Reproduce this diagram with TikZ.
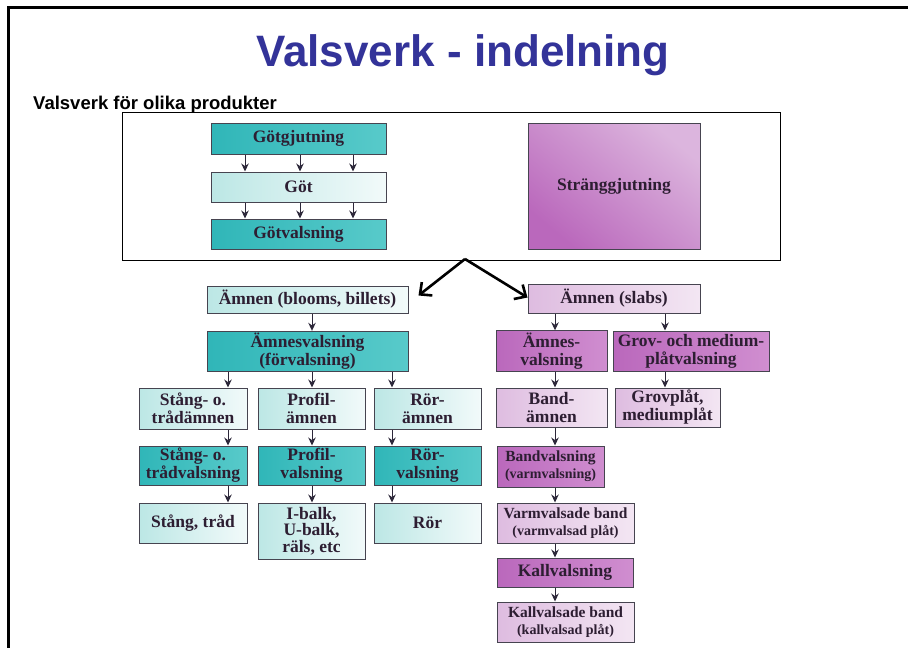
\documentclass[tikz,border=0pt]{standalone}
\usepackage{fontspec}
\setmainfont{Liberation Serif}
\newfontfamily\arialfont{Liberation Sans}
\usepackage{tikz}
\usetikzlibrary{arrows.meta}
\definecolor{titleblue}{RGB}{51,51,153}
\definecolor{boxline}{RGB}{70,68,80}
\definecolor{pilline}{RGB}{45,40,58}
\definecolor{boxtext}{RGB}{45,30,50}
\definecolor{tealA}{RGB}{48,182,184}
\definecolor{tealB}{RGB}{88,202,202}
\definecolor{tealC}{RGB}{188,231,229}
\definecolor{tealE}{RGB}{242,250,250}
\definecolor{lilaA}{RGB}{186,104,188}
\definecolor{lilaB}{RGB}{208,142,208}
\definecolor{lilaC}{RGB}{222,188,224}
\definecolor{lilaE}{RGB}{243,230,243}
\tikzstyle{box}=[draw=boxline, line width=1pt, inner sep=2pt, align=center, text=boxtext, font=\bfseries\fontsize{17.5}{18}\selectfont]
\tikzstyle{tealD}=[box, left color=tealA, right color=tealB]
\tikzstyle{tealL}=[box, left color=tealC, right color=tealE]
\tikzstyle{lilaD}=[box, left color=lilaA, right color=lilaB]
\tikzstyle{lilaL}=[box, left color=lilaC, right color=lilaE]
\tikzstyle{smallbox}=[font=\bfseries\fontsize{15.5}{17}\selectfont]
\tikzstyle{pil}=[->, draw=pilline, line width=0.9pt]
\tikzstyle{bigpil}=[-{Straight Barb[length=9pt,width=17pt]}, line width=2.6pt, black]
\tikzset{>={Stealth[length=8pt,width=7.5pt]}}
\newcommand{\paren}[1]{{\fontsize{14}{17}\selectfont #1}}

\begin{document}
\begin{tikzpicture}[x=1pt, y=-1pt]
\useasboundingbox (0,0) rectangle (908,648);
\draw[line width=3pt] (8,648) -- (8,7.5) -- (908,7.5);
\node[font=\arialfont\bfseries\fontsize{44}{44}\selectfont, text=titleblue, anchor=base] (title) at (463,66) {Valsverk - indelning};
\node[font=\arialfont\bfseries\fontsize{18.5}{18.5}\selectfont, anchor=base west, inner sep=0pt] (sub) at (33,109) {Valsverk för olika produkter};

% gjutning
\node[draw, line width=1pt, minimum width=658pt, minimum height=148pt] (frame) at (451,186) {};
\node[tealD, minimum width=175pt, minimum height=31pt] (gjut) at (298.5,138.5) {Götgjutning};
\node[tealL, minimum width=175pt, minimum height=30pt] (got) at (298.5,187) {Göt};
\node[tealD, minimum width=175pt, minimum height=30pt] (gotv) at (298.5,234) {Götvalsning};
\node[box, minimum width=172pt, minimum height=126pt, top color=lilaC!85!lilaB, bottom color=lilaA, shading angle=-40] (strang) at (614,186) {Stränggjutning};
\coordinate (g1) at (245,0);
\coordinate (g2) at (300,0);
\coordinate (g3) at (353,0);
\foreach \g in {g1,g2,g3}{
\draw[pil] (\g |- gjut.south) -- (\g |- got.north);
\draw[pil] (\g |- got.south) -- (\g |- gotv.north);
}

% blooms, billets
\node[tealL, minimum width=201pt, minimum height=27pt] (amnenb) at (307.5,299.5) {Ämnen (blooms, billets)};
\node[tealD, minimum width=201pt, minimum height=39pt] (amnesv) at (307.5,351.5) {Ämnesvalsning\\(förvalsning)};
\node[tealL, minimum width=108pt, minimum height=41pt] (stangam) at (193,408.5) {Stång- o.\\trådämnen};
\node[tealL, minimum width=107pt, minimum height=41pt] (profam) at (311.5,408.5) {Profil-\\ämnen};
\node[tealL, minimum width=107pt, minimum height=41pt] (roram) at (427.5,408.5) {Rör-\\ämnen};
\node[tealD, minimum width=108pt, minimum height=39pt] (stangv) at (193,465.5) {Stång- o.\\trådvalsning};
\node[tealD, minimum width=107pt, minimum height=39pt] (profv) at (311.5,465.5) {Profil-\\valsning};
\node[tealD, minimum width=107pt, minimum height=39pt] (rorv) at (427.5,465.5) {Rör-\\valsning};
\node[tealL, minimum width=108pt, minimum height=40pt] (stang) at (193,523) {Stång, tråd};
\node[tealL, minimum width=107pt, minimum height=56pt, font=\bfseries\fontsize{17.5}{16.5}\selectfont] (ibalk) at (311.5,531) {I-balk,\\U-balk,\\räls, etc};
\node[tealL, minimum width=107pt, minimum height=40pt] (ror) at (427.5,523) {Rör};
\coordinate (c0) at (312,0);
\coordinate (c1) at (228,0);
\coordinate (c2) at (312,0);
\coordinate (c3) at (392,0);
\draw[pil] (c0 |- amnenb.south) -- (c0 |- amnesv.north);
\foreach \c/\a/\b/\d in {c1/stangam/stangv/stang, c2/profam/profv/ibalk, c3/roram/rorv/ror}{
\draw[pil] (\c |- amnesv.south) -- (\c |- \a.north);
\draw[pil] (\c |- \a.south) -- (\c |- \b.north);
\draw[pil] (\c |- \b.south) -- (\c |- \d.north);
}

% slabs
\node[lilaL, minimum width=172pt, minimum height=29pt] (amnens) at (614,298.5) {Ämnen (slabs)};
\node[lilaD, minimum width=111pt, minimum height=40pt] (amnesvr) at (551.5,351) {Ämnes-\\valsning};
\node[lilaD, minimum width=156pt, minimum height=40pt] (grov) at (691,351) {Grov- och medium-\\plåtvalsning};
\node[lilaL, minimum width=111pt, minimum height=39pt] (bandam) at (551.5,407.5) {Band-\\ämnen};
\node[lilaL, minimum width=105pt, minimum height=39pt] (grovplat) at (667.5,407.5) {Grovplåt,\\mediumplåt};
\node[lilaD, smallbox, minimum width=107pt, minimum height=41pt] (bandv) at (550.5,466.5) {Bandvalsning\\\paren{(varmvalsning)}};
\node[lilaL, smallbox, minimum width=137pt, minimum height=40pt] (varmb) at (565.5,523) {Varmvalsade band\\\paren{(varmvalsad plåt)}};
\node[lilaD, minimum width=136pt, minimum height=29pt] (kallv) at (565,572.5) {Kallvalsning};
\node[lilaL, smallbox, minimum width=137pt, minimum height=40pt] (kallb) at (565.5,622) {Kallvalsade band\\\paren{(kallvalsad plåt)}};
\coordinate (c4) at (555,0);
\coordinate (c5) at (665,0);
\draw[pil] (c4 |- amnens.south) -- (c4 |- amnesvr.north);
\draw[pil] (c4 |- amnesvr.south) -- (c4 |- bandam.north);
\draw[pil] (c4 |- bandam.south) -- (c4 |- bandv.north);
\draw[pil] (c4 |- bandv.south) -- (c4 |- varmb.north);
\draw[pil] (c4 |- varmb.south) -- (c4 |- kallv.north);
\draw[pil] (c4 |- kallv.south) -- (c4 |- kallb.north);
\draw[pil] (c5 |- amnens.south) -- (c5 |- grov.north);
\draw[pil] (c5 |- grov.south) -- (c5 |- grovplat.north);

\coordinate (apex) at (465,259);
\draw[bigpil] (apex) -- ([xshift=10pt,yshift=4pt]amnenb.east);
\draw[bigpil] (apex) -- ([yshift=1pt]amnens.west);
\end{tikzpicture}
\end{document}
